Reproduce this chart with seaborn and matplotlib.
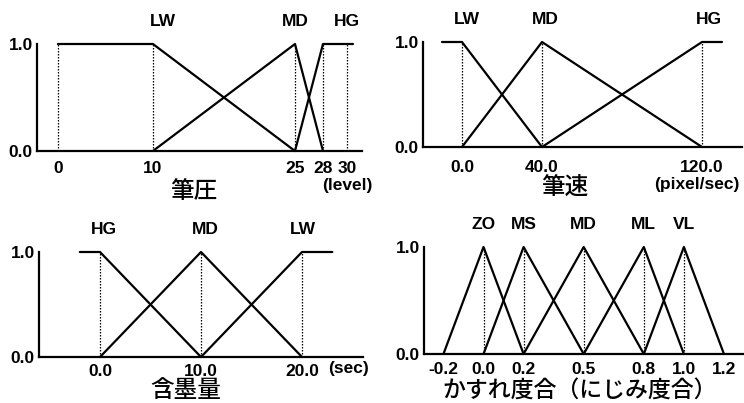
import matplotlib
matplotlib.use("Agg")
import matplotlib.pyplot as plt
import seaborn as sns
import numpy as np
import pandas as pd

sns.set_style("white")
plt.rcParams["font.family"] = ["Liberation Sans", "Noto Sans CJK JP"]
for key in ("text.color", "axes.labelcolor", "xtick.color", "ytick.color", "axes.edgecolor"):
    plt.rcParams[key] = "black"

# ---- 筆圧 (pen pressure) ----
pressure_terms = ["LW", "MD", "HG"]
pressure_x = [[0, 10, 25], [10, 25, 28], [25, 28, 30.5]]
pressure_mu = [[1, 1, 0], [0, 1, 0], [0, 1, 1]]
pressure_ticks = [0, 10, 25, 28, 30]
pressure_ticklabels = ["0", "10", "25", "28", "30"]
pressure_guides = [0, 10, 25, 28, 30]
pressure_label_x = [11, 25, 30]

# ---- 筆速 (pen speed) ----
speed_terms = ["LW", "MD", "HG"]
speed_x = [[-10, 0, 40], [0, 40, 120], [40, 120, 130]]
speed_mu = [[1, 1, 0], [0, 1, 0], [0, 1, 1]]
speed_ticks = [0, 40, 120]
speed_ticklabels = ["0.0", "40.0", "120.0"]
speed_guides = [0, 40, 120]
speed_label_x = [2.5, 41.5, 123.5]

# ---- 含墨量 (ink amount) ----
ink_terms = ["HG", "MD", "LW"]
ink_x = [[-2, 0, 10], [0, 10, 20], [10, 20, 23]]
ink_mu = [[1, 1, 0], [0, 1, 0], [0, 1, 1]]
ink_ticks = [0, 10, 20]
ink_ticklabels = ["0.0", "10.0", "20.0"]
ink_guides = [0, 10, 20]
ink_label_x = [0.4, 10.4, 20.1]

# ---- かすれ度合（にじみ度合） ----
blur_terms = ["ZO", "MS", "MD", "ML", "VL"]
blur_x = [[-0.2, 0.0, 0.2], [0.0, 0.2, 0.5], [0.2, 0.5, 0.8], [0.5, 0.8, 1.0], [0.8, 1.0, 1.2]]
blur_mu = [[0, 1, 0]] * 5
blur_ticks = [-0.2, 0.0, 0.2, 0.5, 0.8, 1.0, 1.2]
blur_ticklabels = ["-0.2", "0.0", "0.2", "0.5", "0.8", "1.0", "1.2"]
blur_guides = [0.0, 0.2, 0.5, 0.8, 1.0]
blur_label_x = [0.0, 0.2, 0.5, 0.8, 1.0]

W, H = 744, 403
fig = plt.figure(figsize=(W / 100, H / 100), dpi=100)

LW_MAIN = 1.6
LATIN = dict(fontsize=12.5, fontweight="bold")
CJK = dict(fontweight="medium", family=["Noto Sans CJK JP", "DejaVu Sans"])


def piecewise_scale(knots_in, knots_out):
    """Piecewise-linear axis mapping with linear extrapolation past the ends."""
    xi = np.asarray(knots_in, float)
    yo = np.asarray(knots_out, float)

    def make(a, b):
        s_lo = (b[1] - b[0]) / (a[1] - a[0])
        s_hi = (b[-1] - b[-2]) / (a[-1] - a[-2])

        def f(v):
            v = np.asarray(v, float)
            out = np.interp(v, a, b)
            out = np.where(v < a[0], b[0] + (v - a[0]) * s_lo, out)
            out = np.where(v > a[-1], b[-1] + (v - a[-1]) * s_hi, out)
            return out
        return f

    return make(xi, yo), make(yo, xi)


def axes_at(px_left, px_right, py_one, py_zero, xlim, scale=None):
    ax = fig.add_axes([px_left / W, 1 - py_zero / H,
                       (px_right - px_left) / W, (py_zero - py_one) / H])
    if scale is not None:
        ax.set_xscale("function", functions=scale)
    ax.set_xlim(*xlim)
    ax.set_ylim(0, 1)
    return ax


def draw_panel(ax, terms, xs, mus, ticks, ticklabels, guides, label_x,
               xlabel, xlabel_x, xlabel_drop, xpad, cjk_size):
    rows = []
    for term, xv, mv in zip(terms, xs, mus):
        for x, m in zip(xv, mv):
            rows.append({"term": term, "x": x, "mu": m})
    df = pd.DataFrame(rows)
    sns.lineplot(data=df, x="x", y="mu", hue="term", hue_order=terms,
                 palette=["black"] * len(terms), sort=False, estimator=None,
                 legend=False, linewidth=LW_MAIN, clip_on=False, ax=ax)
    ax.vlines(guides, 0, 1, colors="black", linestyles=(0, (1.2, 1.2)),
              linewidth=0.9, clip_on=False)

    sns.despine(ax=ax)
    ax.spines["left"].set_bounds(0, 1)
    for side in ("left", "bottom"):
        ax.spines[side].set_linewidth(LW_MAIN)
    ax.set_xlabel("")
    ax.set_ylabel("")
    ax.grid(False)

    ax.set_yticks([0, 1], ["0.0", "1.0"], **LATIN)
    ax.tick_params(axis="y", direction="in", length=6, width=LW_MAIN, pad=3)
    ax.set_xticks(ticks, ticklabels, **LATIN)
    ax.xaxis.set_minor_locator(matplotlib.ticker.NullLocator())
    ax.tick_params(axis="x", which="both", length=0, pad=xpad)

    for term, lx in zip(terms, label_x):
        ax.annotate(term, xy=(lx, 1), xytext=(0, 16.5), textcoords="offset points",
                    ha="center", va="center", annotation_clip=False, **LATIN)

    ax.annotate(xlabel, xy=(xlabel_x, 0), xytext=(0, -xlabel_drop),
                textcoords="offset points", ha="center", va="center",
                annotation_clip=False, fontsize=cjk_size, **CJK)
    return ax


# pressure axis is drawn with uneven spacing between the level marks
ax1 = axes_at(37, 362, 44, 151, (-2.2, 31.25),
              scale=piecewise_scale(pressure_ticks, [58, 153, 295, 323, 347]))
draw_panel(ax1, pressure_terms, pressure_x, pressure_mu, pressure_ticks,
           pressure_ticklabels, pressure_guides, pressure_label_x,
           "筆圧", 14.3, 29, 7.5, 17)
ax1.annotate("(level)", xy=(30.0, 0), xytext=(0, -25), textcoords="offset points",
             ha="center", va="center", annotation_clip=False, **LATIN)

ax2 = axes_at(423, 742, 42, 147, (-19.5, 140))
draw_panel(ax2, speed_terms, speed_x, speed_mu, speed_ticks,
           speed_ticklabels, speed_guides, speed_label_x,
           "筆速", 51.5, 29, 9, 17)
ax2.annotate("(pixel/sec)", xy=(117.5, 0), xytext=(0, -27), textcoords="offset points",
             ha="center", va="center", annotation_clip=False, **LATIN)

ax3 = axes_at(39, 363, 252, 357, (-6.04, 26.04))
draw_panel(ax3, ink_terms, ink_x, ink_mu, ink_ticks,
           ink_ticklabels, ink_guides, ink_label_x,
           "含墨量", 8.5, 24, 5, 17)
ax3.annotate("(sec)", xy=(24.6, 0), xytext=(0, -8.5), textcoords="offset points",
             ha="center", va="center", annotation_clip=False, **LATIN)

ax4 = axes_at(424, 744, 247, 354, (-0.297, 1.30))
draw_panel(ax4, blur_terms, blur_x, blur_mu, blur_ticks,
           blur_ticklabels, blur_guides, blur_label_x,
           "かすれ度合（にじみ度合）", 0.48, 26.5, 5.5, 16.5)

fig.savefig("out.png", dpi=100)
